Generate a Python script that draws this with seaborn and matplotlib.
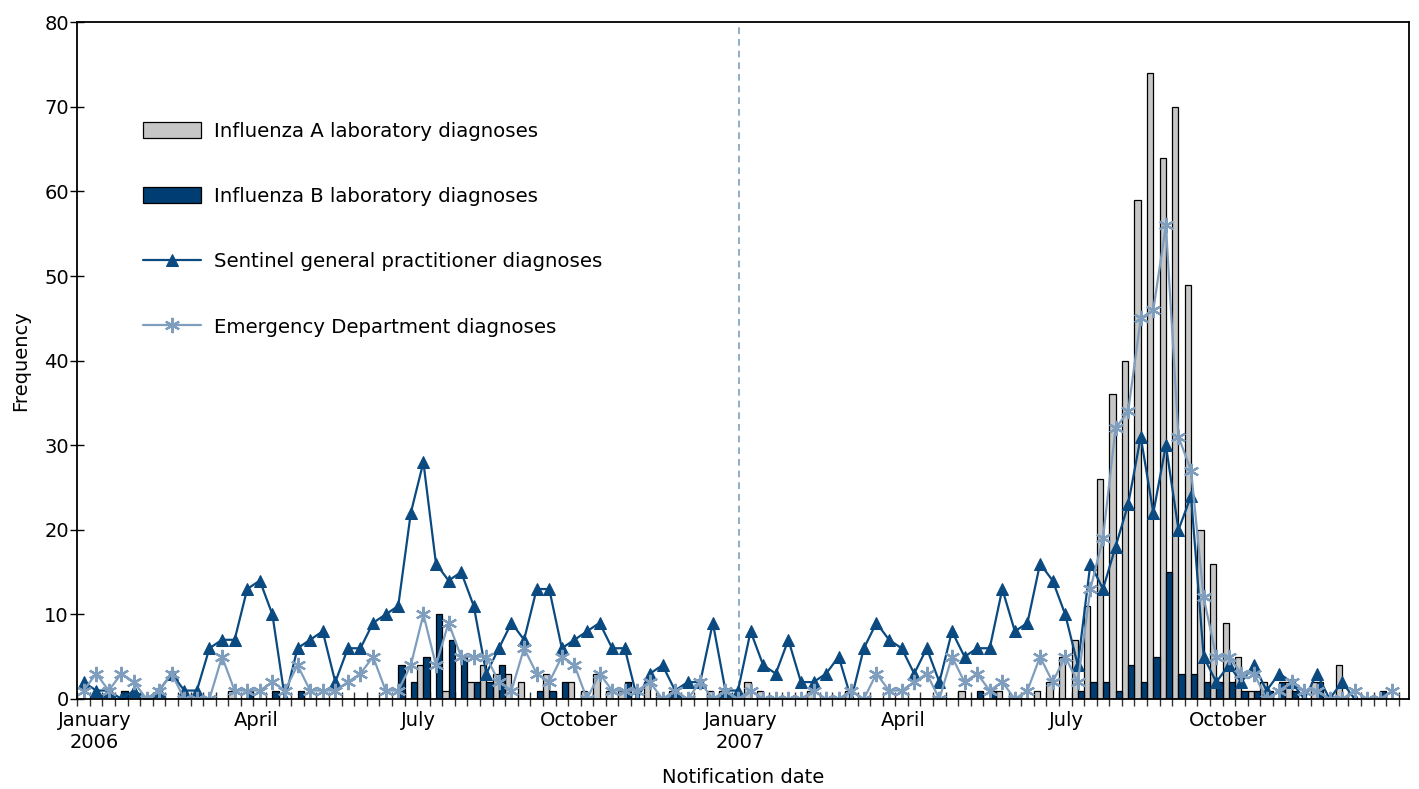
import numpy as np
import pandas as pd
import matplotlib
matplotlib.use("Agg")
import matplotlib.pyplot as plt
import seaborn as sns

# Weekly counts, January 2006 - December 2007 (one value per week)
flu_a = [
    0, 0, 0, 0, 0, 0, 0, 0, 0, 0,
    0, 0, 1, 0, 0, 0, 0, 0, 0, 0,
    0, 0, 0, 0, 0, 0, 0, 4, 0, 1,
    0, 2, 4, 3, 3, 2, 0, 3, 0, 2,
    1, 3, 1, 1, 0, 2, 0, 1, 0, 0,
    1, 1, 0, 2, 1, 0, 0, 0, 1, 0,
    0, 1, 0, 0, 0, 0, 0, 0, 0, 0,
    1, 0, 0, 1, 0, 0, 1, 2, 5, 7,
    11, 26, 36, 40, 59, 74, 64, 70, 49, 20,
    16, 9, 5, 1, 2, 0, 2, 0, 2, 0,
    4, 0, 0, 0, 0,
]
flu_b = [
    0, 0, 0, 1, 0, 0, 0, 0, 0, 0,
    0, 0, 0, 1, 0, 1, 0, 1, 0, 0,
    0, 0, 0, 0, 0, 4, 2, 5, 10, 7,
    5, 2, 2, 4, 0, 0, 1, 1, 2, 0,
    0, 0, 0, 2, 0, 0, 0, 0, 0, 0,
    0, 0, 0, 0, 0, 0, 0, 0, 0, 0,
    0, 0, 0, 0, 0, 0, 0, 0, 0, 0,
    0, 1, 1, 0, 0, 0, 0, 0, 0, 1,
    2, 2, 1, 4, 2, 5, 15, 3, 3, 2,
    2, 2, 1, 1, 1, 2, 1, 0, 2, 0,
    0, 0, 0, 1, 0,
]
sentinel_gp = [
    2, 1, 1, 0, 1, 0, 1, 3, 1, 1,
    6, 7, 7, 13, 14, 10, 0, 6, 7, 8,
    2, 6, 6, 9, 10, 11, 22, 28, 16, 14,
    15, 11, 3, 6, 9, 7, 13, 13, 6, 7,
    8, 9, 6, 6, 0, 3, 4, 1, 2, 2,
    9, 1, 1, 8, 4, 3, 7, 2, 2, 3,
    5, 0, 6, 9, 7, 6, 3, 6, 2, 8,
    5, 6, 6, 13, 8, 9, 16, 14, 10, 4,
    16, 13, 18, 23, 31, 22, 30, 20, 24, 5,
    2, 4, 2, 4, 1, 3, 2, 0, 3, 0,
    2, 0,
]
emergency_dept = [
    1, 3, 1, 3, 2, 0, 1, 3, 0, 0,
    0, 5, 1, 1, 1, 2, 1, 4, 1, 1,
    1, 2, 3, 5, 1, 1, 4, 10, 4, 9,
    5, 5, 5, 2, 1, 6, 3, 2, 5, 4,
    0, 3, 1, 1, 1, 2, 0, 1, 0, 2,
    0, 1, 0, 1, 0, 0, 0, 0, 1, 0,
    0, 1, 0, 3, 1, 1, 2, 3, 0, 5,
    2, 3, 1, 2, 0, 1, 5, 2, 5, 2,
    13, 19, 32, 34, 45, 46, 56, 31, 27, 12,
    5, 5, 3, 3, 0, 1, 2, 1, 1, 0,
    0, 1, 0, 0, 1,
]

month_labels = ["January\n2006", "April", "July", "October",
                "January\n2007", "April", "July", "October"]
month_weeks = [1.35, 14.2, 27.1, 39.9, 52.7, 65.6, 78.6, 91.4]
year_break_week = 52.55

label_a = "Influenza A laboratory diagnoses"
label_b = "Influenza B laboratory diagnoses"
label_gp = "Sentinel general practitioner diagnoses"
label_ed = "Emergency Department diagnoses"

grey_fill = "#c6c6c6"
dark_blue = "#003d72"
gp_blue = "#0a4a80"
ed_blue = "#7f9ebe"

sns.set_style("ticks")
plt.rcParams["font.family"] = ["DejaVu Sans"]
plt.rcParams["font.size"] = 14
for key in ["text.color", "axes.labelcolor", "xtick.color", "ytick.color",
            "xtick.labelcolor", "ytick.labelcolor"]:
    plt.rcParams[key] = "black"

fig = plt.figure(figsize=(14.19, 7.89), dpi=100)
ax = fig.add_axes([0.05448, 0.11407, 0.93868, 0.85767])

n_weeks = len(flu_a)
weeks = np.arange(n_weeks)

df_a = pd.DataFrame({"week": weeks + 0.25, "count": flu_a})
df_b = pd.DataFrame({"week": weeks + 0.75, "count": flu_b})
df_gp = pd.DataFrame({"week": np.arange(len(sentinel_gp)) + 0.5, "count": sentinel_gp})
df_ed = pd.DataFrame({"week": np.arange(len(emergency_dept)) + 0.5, "count": emergency_dept})

sns.barplot(data=df_a, x="week", y="count", native_scale=True, width=0.5,
            color=grey_fill, saturation=1, edgecolor="black", linewidth=0.9,
            errorbar=None, label=label_a, ax=ax)
sns.barplot(data=df_b, x="week", y="count", native_scale=True, width=0.5,
            color=dark_blue, saturation=1, edgecolor="black", linewidth=0.9,
            errorbar=None, label=label_b, ax=ax)

sns.lineplot(data=df_gp, x="week", y="count", color=gp_blue, linewidth=1.6,
             marker="^", markersize=9, markeredgecolor=gp_blue,
             label=label_gp, ax=ax)
sns.lineplot(data=df_ed, x="week", y="count", color=ed_blue, linewidth=1.6,
             marker=(6, 2, 0), markersize=11, markeredgewidth=1.6,
             markeredgecolor=ed_blue, label=label_ed, ax=ax)

ax.axvline(year_break_week, color=ed_blue, linestyle=(0, (4, 3)), linewidth=1.2, zorder=0.5)

ax.set_xlim(0, 105.84)
ax.set_ylim(0, 80)
ax.set_yticks(range(0, 81, 10))
ax.set_xticks(month_weeks)
ax.set_xticklabels(month_labels)
ax.set_xticks(np.arange(0, 106), minor=True)

ax.tick_params(axis="x", which="major", length=0, pad=9, labelsize=14)
ax.tick_params(axis="x", which="minor", direction="inout", length=9.5, width=1.0, color="#333333")
ax.tick_params(axis="y", which="major", direction="inout", length=10, width=1.0, pad=1, labelsize=14)

for side in ["left", "right", "top", "bottom"]:
    ax.spines[side].set_visible(True)
    ax.spines[side].set_linewidth(1.3)
    ax.spines[side].set_color("black")

ax.set_xlabel("Notification date", fontsize=14, labelpad=11.5)
ax.set_ylabel("Frequency", fontsize=14, labelpad=10)

handles, labels = ax.get_legend_handles_labels()
by_label = dict(zip(labels, handles))
order = [label_a, label_b, label_gp, label_ed]
ax.legend([by_label[k] for k in order], order, loc="upper left",
          bbox_to_anchor=(0.0493, 0.853),
          frameon=False, borderpad=0, borderaxespad=0, handlelength=2.93,
          handleheight=0.87, handletextpad=0.67, labelspacing=2.35,
          numpoints=1, fontsize=14.2)

fig.savefig("out.png", dpi=100)
